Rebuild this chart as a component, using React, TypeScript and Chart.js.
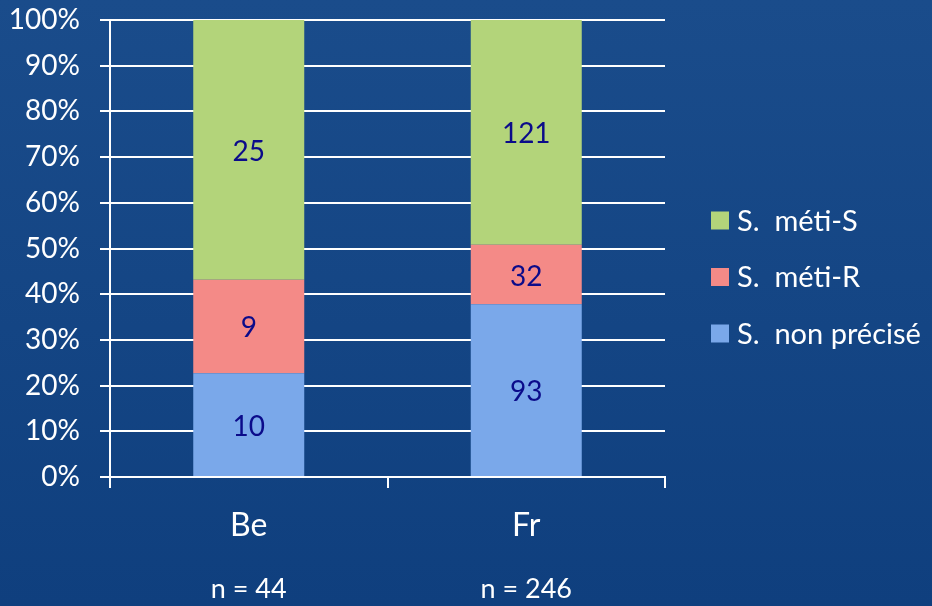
import React, { useEffect, useRef } from "react";
import { Chart, registerables } from "chart.js";

Chart.register(...registerables);

const categories = ["Be", "Fr"];
const sampleLabels = ["n = 44", "n = 246"];
const seriesNames = ["S.  non précisé", "S.  méti-R", "S.  méti-S"];
const nonPrecise = [10, 93];
const metiR = [9, 32];
const metiS = [25, 121];
const seriesColors = ["#7AA8EA", "#F48A87", "#B3D47A"];

const FONT = "Lato, 'Open Sans', sans-serif";

export default function App() {
  const ref = useRef<HTMLCanvasElement | null>(null);

  useEffect(() => {
    const counts = [nonPrecise, metiR, metiS];
    const totals = categories.map((_, i) => counts.reduce((s, arr) => s + arr[i], 0));
    const datasets = counts.map((arr, k) => ({
      label: seriesNames[k],
      data: arr.map((v, i) => (v / totals[i]) * 100),
      counts: arr,
      backgroundColor: seriesColors[k],
      borderWidth: 0,
      categoryPercentage: 1,
      barPercentage: 0.4,
    }));

    const labelPlugin = {
      id: "extras",
      afterDatasetsDraw(chart: any) {
        const ctx = chart.ctx;
        ctx.save();
        ctx.font = `28px ${FONT}`;
        ctx.fillStyle = "#0B0B8A";
        ctx.textAlign = "center";
        ctx.textBaseline = "middle";
        chart.data.datasets.forEach((ds: any, di: number) => {
          const meta = chart.getDatasetMeta(di);
          meta.data.forEach((el: any, i: number) => {
            const y = (el.y + el.base) / 2;
            ctx.fillText(String(ds.counts[i]), el.x, y + 2);
          });
        });
        ctx.restore();
      },
      afterDraw(chart: any) {
        const ctx = chart.ctx;
        const area = chart.chartArea;
        const xs = chart.scales.x;
        ctx.save();
        ctx.font = `27px ${FONT}`;
        ctx.fillStyle = "#ffffff";
        ctx.textAlign = "center";
        ctx.textBaseline = "middle";
        sampleLabels.forEach((t, i) => {
          ctx.fillText(t, xs.getPixelForValue(i), area.bottom + 112);
        });
        const n = seriesNames.length;
        const boxX = area.right + 46;
        const rowGap = 56.5;
        const firstY = area.top + 200.5;
        for (let r = 0; r < n; r++) {
          const k = n - 1 - r;
          const cy = firstY + r * rowGap;
          ctx.fillStyle = seriesColors[k];
          ctx.fillRect(boxX, cy - 9, 18, 18);
          ctx.fillStyle = "#ffffff";
          ctx.textAlign = "left";
          ctx.font = `29px ${FONT}`;
          ctx.fillText(seriesNames[k], boxX + 26, cy + 1);
        }
        ctx.restore();
      },
    };

    const chart = new Chart(ref.current as HTMLCanvasElement, {
      type: "bar",
      data: { labels: categories, datasets: datasets as any },
      options: {
        animation: false,
        responsive: false,
        layout: { padding: { left: 0, right: 267, top: 20, bottom: 0 } },
        plugins: { legend: { display: false }, tooltip: { enabled: false } },
        scales: {
          x: {
            stacked: true,
            afterFit: (s: any) => {
              s.height = 129;
              s.paddingLeft = 0;
              s.paddingRight = 0;
            },
            grid: {
              drawOnChartArea: false,
              drawTicks: true,
              tickLength: 11,
              color: "#ffffff",
              lineWidth: 2,
              offset: true,
            },
            border: { display: true, color: "#ffffff", width: 2 },
            ticks: {
              color: "#ffffff",
              font: { family: FONT, size: 32 },
              padding: 18,
            },
          },
          y: {
            stacked: true,
            min: 0,
            max: 100,
            afterFit: (s: any) => {
              s.width = 110;
              s.paddingTop = 0;
              s.paddingBottom = 0;
            },
            grid: {
              color: "#ffffff",
              lineWidth: 2,
              tickLength: 10,
              drawTicks: true,
            },
            border: { display: true, color: "#ffffff", width: 2 },
            ticks: {
              stepSize: 10,
              color: "#ffffff",
              font: { family: FONT, size: 28 },
              padding: 20,
              callback: (v: any) => `${v}%`,
            },
          },
        },
      },
      plugins: [labelPlugin],
    });
    return () => chart.destroy();
  }, []);

  return (
    <div
      style={{
        position: "fixed",
        left: 0,
        top: 0,
        width: 932,
        height: 606,
        background: "linear-gradient(to bottom, #1A4C8B 0%, #0F3F7E 100%)",
      }}
    >
      <canvas ref={ref} width={932} height={606} style={{ display: "block" }} />
    </div>
  );
}
